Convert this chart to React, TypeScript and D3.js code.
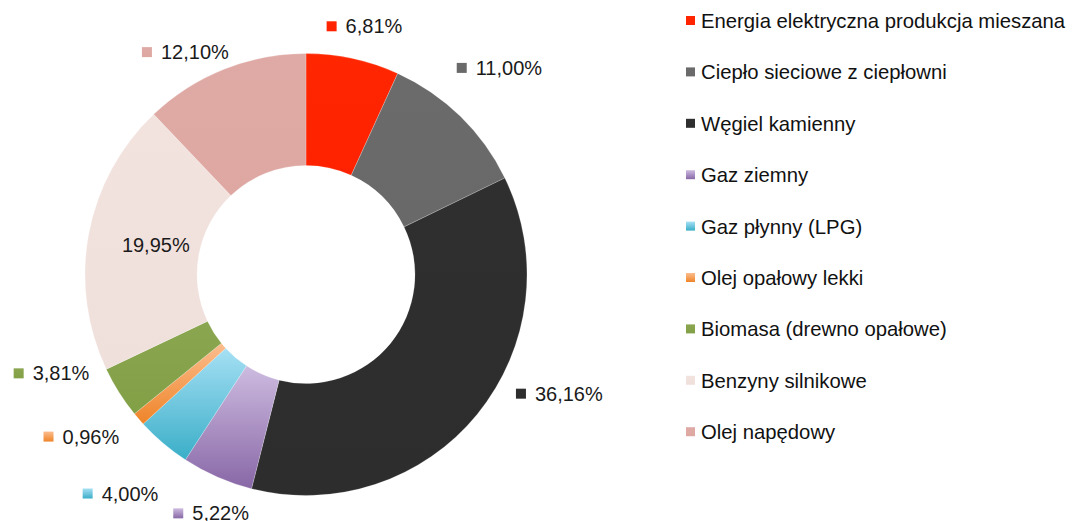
import React, { useEffect, useRef } from "react";
import * as d3 from "d3";

const categories = [
  "Energia elektryczna produkcja mieszana",
  "Ciepło sieciowe z ciepłowni",
  "Węgiel kamienny",
  "Gaz ziemny",
  "Gaz płynny (LPG)",
  "Olej opałowy lekki",
  "Biomasa (drewno opałowe)",
  "Benzyny silnikowe",
  "Olej napędowy",
];
const shares = [6.81, 11.0, 36.16, 5.22, 4.0, 0.96, 3.81, 19.95, 12.1];
const shareLabels = ["6,81%", "11,00%", "36,16%", "5,22%", "4,00%", "0,96%", "3,81%", "19,95%", "12,10%"];
// top / bottom colours of each slice gradient
const colorsTop = ["#ff2600", "#6b6b6b", "#2f2f2f", "#cdbbe0", "#a6e0f4", "#fbbd8e", "#8aa650", "#f2e3df", "#dfaaa5"];
const colorsBottom = ["#ff2200", "#696969", "#2d2d2d", "#8867a6", "#3aaec8", "#ef8428", "#82a046", "#f0e0dc", "#dea7a2"];

export default function App() {
  const svgRef = useRef<SVGSVGElement>(null);

  useEffect(() => {
    const W = 1074;
    const H = 521;
    const cx = 306;
    const cy = 274.5;
    const R = 221;
    const r0 = 109;
    const labelR = 265;
    const FONT = "'Liberation Sans', Arial, sans-serif";

    const svg = d3.select(svgRef.current).attr("width", W).attr("height", H);
    svg.selectAll("*").remove();

    const defs = svg.append("defs");
    categories.forEach((_, i) => {
      const g = defs.append("linearGradient").attr("id", `grad${i}`).attr("x1", 0).attr("y1", 0).attr("x2", 0).attr("y2", 1);
      g.append("stop").attr("offset", "0%").attr("stop-color", colorsTop[i]);
      g.append("stop").attr("offset", "100%").attr("stop-color", colorsBottom[i]);
    });

    const data = categories.map((c, i) => ({ cat: c, value: shares[i], label: shareLabels[i], i }));
    const pie = d3.pie<any>().value((d) => d.value).sort(null);
    const arcs = pie(data);
    const arc = d3.arc<any>().innerRadius(r0).outerRadius(R);

    const chart = svg.append("g").attr("transform", `translate(${cx},${cy})`);
    chart
      .selectAll(".slice")
      .data(arcs)
      .join("path")
      .attr("class", "slice")
      .attr("d", arc)
      .attr("fill", (d: any) => `url(#grad${d.data.i})`)
      .attr("stroke", "#ffffff")
      .attr("stroke-opacity", 0.5)
      .attr("stroke-width", 0.4);

    // labels placed around the ring, nudged where the original moved them
    const angleNudge: Record<number, number> = { 0: 1, 1: -1.2, 2: -14, 3: -2, 5: 5, 6: 11, 8: -6.7 };
    const radiusNudge: Record<number, number> = { 0: -10, 1: 18, 2: 15, 3: -8, 4: 22, 5: 12, 6: 8, 8: -12 };
    arcs.forEach((a: any) => {
      const i = a.data.i;
      const g = chart.append("g");
      if (i === 7) {
        const [x, y] = arc.centroid(a);
        g.append("text")
          .attr("x", x + 12)
          .attr("y", y + 1)
          .attr("text-anchor", "middle")
          .attr("dominant-baseline", "central")
          .attr("font-family", FONT)
          .attr("font-size", 20)
          .attr("fill", "#1a1a1a")
          .text(a.data.label);
        return;
      }
      const mid = (a.startAngle + a.endAngle) / 2 + ((angleNudge[i] || 0) * Math.PI) / 180;
      const rr = labelR + (radiusNudge[i] || 0);
      const x = Math.sin(mid) * rr;
      const y = -Math.cos(mid) * rr;
      const t = g
        .append("text")
        .attr("x", x + 12)
        .attr("y", y)
        .attr("dominant-baseline", "central")
        .attr("font-family", FONT)
        .attr("font-size", 20)
        .attr("fill", "#1a1a1a")
        .text(a.data.label);
      const w = (t.node() as SVGTextElement).getComputedTextLength() + 19;
      t.attr("x", x - w / 2 + 19);
      g.append("rect")
        .attr("x", x - w / 2)
        .attr("y", y - 5)
        .attr("width", 10)
        .attr("height", 10)
        .attr("fill", `url(#grad${i})`);
    });

    // legend
    const legend = svg.append("g").attr("transform", "translate(686,21)");
    const rowH = 51.4;
    const items = legend
      .selectAll(".item")
      .data(data)
      .join("g")
      .attr("class", "item")
      .attr("transform", (d) => `translate(0,${d.i * rowH})`);
    items
      .append("rect")
      .attr("x", 0)
      .attr("y", -5)
      .attr("width", 9)
      .attr("height", 9)
      .attr("fill", (d) => `url(#grad${d.i})`);
    items
      .append("text")
      .attr("x", 15)
      .attr("y", 0)
      .attr("dominant-baseline", "central")
      .attr("font-family", FONT)
      .attr("font-size", 20.3)
      .attr("fill", "#111")
      .text((d) => d.cat);
  }, []);

  return (
    <div style={{ position: "absolute", left: 0, top: 0 }}>
      <svg ref={svgRef}></svg>
    </div>
  );
}
